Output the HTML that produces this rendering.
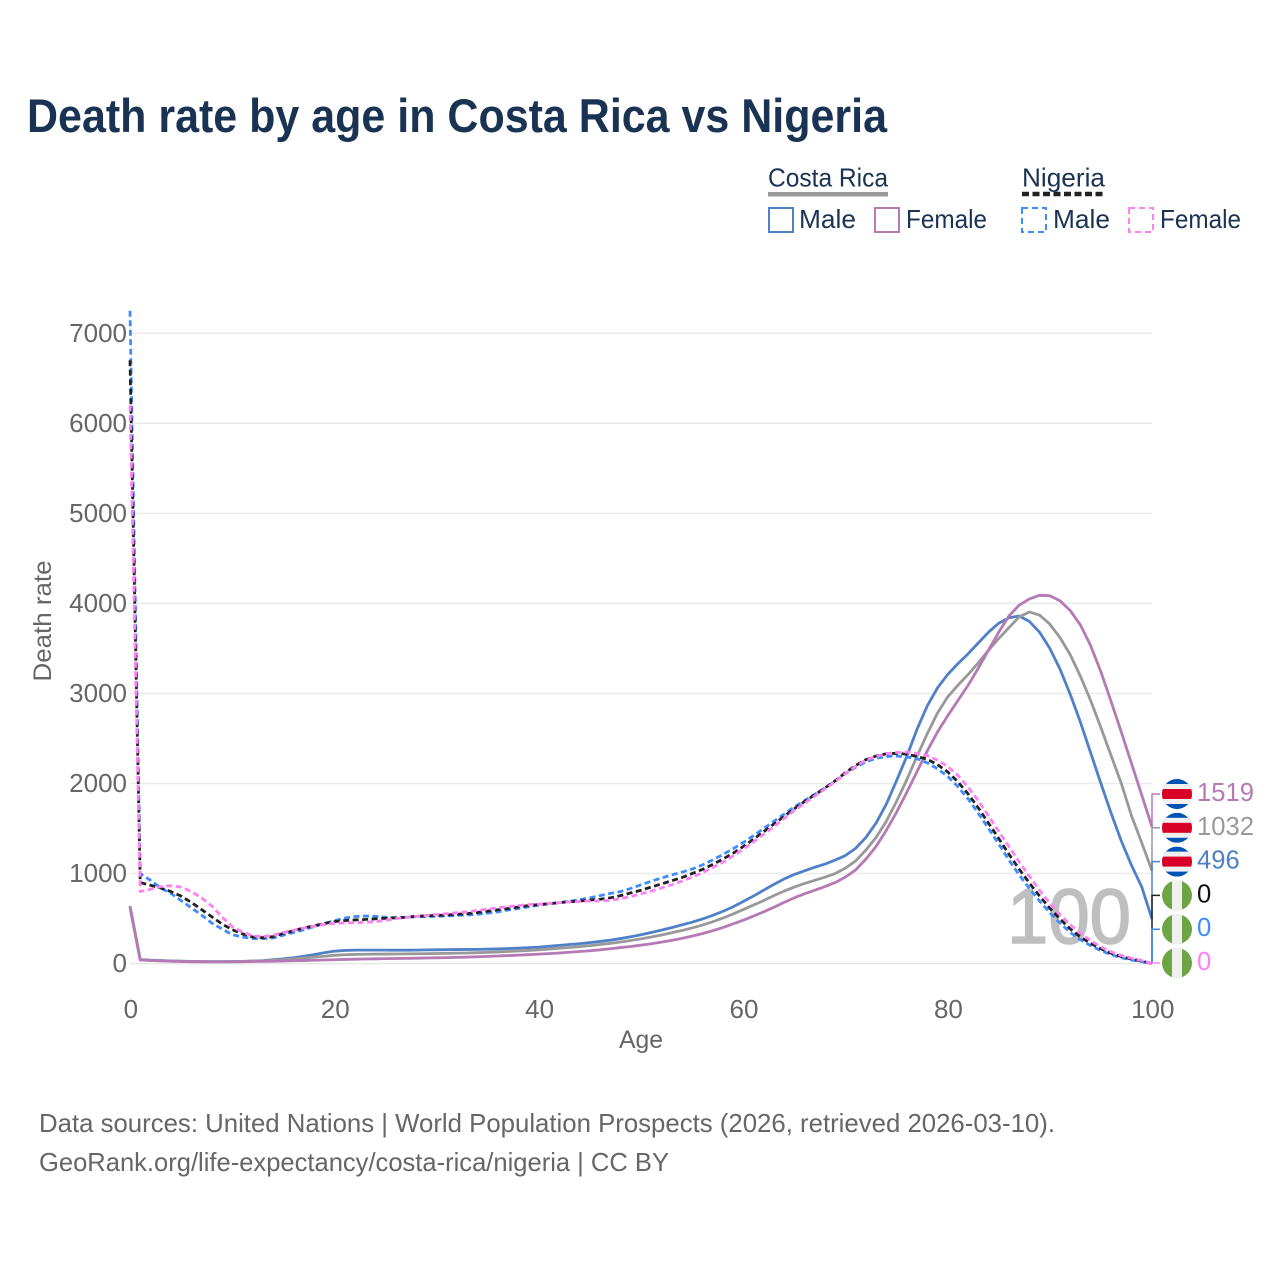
<!DOCTYPE html>
<html lang="en">
<head>
<meta charset="utf-8">
<title>Death rate by age in Costa Rica vs Nigeria</title>
<style>
html,body{margin:0;padding:0;background:#fff;}
svg{display:block;font-family:"Liberation Sans",sans-serif;}
</style>
</head>
<body>
<svg id="chart" width="1280" height="1280" viewBox="0 0 1280 1280" xmlns="http://www.w3.org/2000/svg">
<rect width="1280" height="1280" fill="#fff"/>
<text x="27" y="132" font-size="47" font-weight="700" fill="#1a3353" textLength="860" lengthAdjust="spacingAndGlyphs">Death rate by age in Costa Rica vs Nigeria</text>

<g font-size="26" fill="#1a3353">
<text x="768" y="186.5" textLength="120" lengthAdjust="spacingAndGlyphs">Costa Rica</text>
<rect x="768" y="192" width="120" height="4.5" fill="#999"/>
<text x="1022" y="186.5" textLength="83" lengthAdjust="spacingAndGlyphs">Nigeria</text>
<line x1="1022" y1="194" x2="1105" y2="194" stroke="#222" stroke-width="4.5" stroke-dasharray="7 3.5"/>
<rect x="769" y="208" width="24" height="24" fill="none" stroke="#5080c8" stroke-width="2"/>
<text x="799" y="228" textLength="57" lengthAdjust="spacingAndGlyphs">Male</text>
<rect x="875" y="208" width="24" height="24" fill="none" stroke="#b57ab5" stroke-width="2"/>
<text x="906" y="228" textLength="81" lengthAdjust="spacingAndGlyphs">Female</text>
<rect x="1022" y="208" width="24" height="24" fill="none" stroke="#3f8cff" stroke-width="2" stroke-dasharray="6 4"/>
<text x="1053" y="228" textLength="57" lengthAdjust="spacingAndGlyphs">Male</text>
<rect x="1129" y="208" width="24" height="24" fill="none" stroke="#ff80f5" stroke-width="2" stroke-dasharray="6 4"/>
<text x="1160" y="228" textLength="81" lengthAdjust="spacingAndGlyphs">Female</text>
</g>

<g id="grid"></g>
<g id="yticks" font-size="26" fill="#666" text-anchor="end"></g>
<g id="xticks" font-size="26" fill="#666" text-anchor="middle"></g>
<text x="641" y="1048" font-size="25" fill="#666" text-anchor="middle" textLength="44" lengthAdjust="spacingAndGlyphs">Age</text>
<text transform="translate(51,621) rotate(-90)" font-size="25" fill="#666" text-anchor="middle" textLength="121" lengthAdjust="spacingAndGlyphs">Death rate</text>
<text x="1007" y="943" font-size="78" font-weight="400" stroke="#bfbfbf" stroke-width="1.6" fill="#bfbfbf" textLength="124" lengthAdjust="spacingAndGlyphs">100</text>
<g id="lines"></g>
<g id="endlabels"></g>

<g font-size="26" fill="#666">
<text x="39" y="1132" textLength="1016" lengthAdjust="spacingAndGlyphs">Data sources: United Nations | World Population Prospects (2026, retrieved 2026-03-10).</text>
<text x="39" y="1171" textLength="630" lengthAdjust="spacingAndGlyphs">GeoRank.org/life-expectancy/costa-rica/nigeria | CC BY</text>
</g>
</svg>
<script>
const yTickValues = [0,1000,2000,3000,4000,5000,6000,7000];
const xTickValues = [0,20,40,60,80,100];
const costaRicaMale = [640,45,38,34,30,27,25,23,22,22,23,25,28,33,42,52,65,82,100,120,138,146,150,150,150,150,149,149,150,152,153,155,156,157,158,160,163,167,172,177,183,192,202,212,222,233,246,260,278,298,320,345,372,400,430,460,495,535,580,630,690,750,815,880,940,990,1030,1070,1105,1150,1200,1280,1400,1560,1770,2030,2300,2600,2860,3060,3210,3330,3440,3560,3680,3780,3840,3860,3800,3680,3500,3270,2990,2680,2340,2000,1670,1360,1090,850,496];
const costaRicaAll = [640,42,36,32,28,25,23,22,21,21,22,24,26,30,36,43,52,62,72,82,92,98,102,104,105,106,107,108,109,110,112,114,116,118,121,125,129,134,140,146,153,161,170,179,189,200,212,225,240,257,275,296,318,342,368,396,428,464,505,550,600,650,700,755,805,850,890,925,960,1000,1060,1140,1260,1400,1580,1800,2040,2300,2550,2780,2960,3090,3210,3340,3480,3610,3730,3850,3905,3870,3770,3620,3430,3190,2920,2620,2310,2000,1640,1340,1032];
const costaRicaFemale = [620,40,34,30,26,23,21,20,19,19,20,21,23,25,27,29,32,34,37,40,43,46,49,51,53,55,57,58,60,62,64,66,69,72,76,80,84,89,94,99,105,111,118,126,134,143,153,165,178,190,205,220,238,258,280,305,333,365,400,440,482,527,575,625,680,730,775,815,855,900,960,1040,1160,1300,1480,1680,1900,2130,2360,2570,2750,2920,3090,3280,3480,3680,3860,3980,4050,4090,4085,4030,3920,3760,3530,3240,2910,2570,2220,1870,1519];
const nigeriaAll = [6700,900,870,840,800,750,680,600,520,440,377,330,295,288,300,335,365,395,420,445,466,478,485,490,497,503,508,515,525,530,535,540,548,555,568,582,598,612,628,645,655,665,677,687,695,705,715,730,755,785,815,850,885,920,955,1000,1045,1100,1160,1225,1300,1380,1465,1550,1635,1720,1800,1875,1950,2030,2120,2200,2265,2305,2330,2335,2325,2300,2270,2210,2130,2020,1885,1730,1560,1390,1215,1050,895,750,615,495,385,295,225,165,115,78,50,28,0];
const nigeriaMale = [7250,1000,925,840,780,700,620,540,450,385,322,295,278,277,285,315,345,375,410,445,477,505,522,528,525,515,510,515,520,522,525,530,535,540,548,560,575,595,612,630,650,665,677,692,710,730,755,780,800,835,875,915,950,985,1015,1050,1095,1150,1210,1275,1345,1420,1500,1580,1660,1740,1810,1880,1950,2025,2110,2180,2240,2280,2300,2305,2295,2275,2230,2165,2080,1965,1830,1670,1500,1330,1150,985,835,695,565,450,345,265,200,145,100,65,40,20,0];
const nigeriaFemale = [6200,800,825,855,865,850,800,730,640,520,410,350,310,300,315,345,370,395,415,435,445,452,455,458,465,480,500,512,525,535,545,555,565,575,590,605,620,632,645,655,660,668,677,685,690,695,697,702,720,745,775,805,840,875,915,960,1010,1065,1125,1195,1270,1350,1435,1520,1610,1700,1780,1860,1940,2020,2110,2190,2260,2300,2330,2345,2350,2335,2310,2260,2190,2090,1960,1810,1640,1470,1300,1130,970,815,670,545,430,335,255,185,130,90,60,35,0];

const NS = 'http://www.w3.org/2000/svg';
const xAxis = function (age) { return 130 + age * 10.22; };
const yAxis = function (v) { return 963.6 - v * 0.09005; };
const SLOT_BOTTOM = 963;
const SLOT_STEP = 33.8;

function make(tag, parent) {
  const el = document.createElementNS(NS, tag);
  parent.appendChild(el);
  return el;
}

const grid = document.getElementById('grid');
const yticks = document.getElementById('yticks');
const xticks = document.getElementById('xticks');
const lines = document.getElementById('lines');
const endlabels = document.getElementById('endlabels');

yTickValues.forEach(function (v) {
  const g = make('line', grid);
  
  
  g.setAttribute('x1', 130);
  g.setAttribute('x2', 1152);
  g.setAttribute('y1', yAxis(v));
  g.setAttribute('y2', yAxis(v));
  g.setAttribute('stroke', v === 0 ? '#e6e6e6' : '#ebebeb');
  g.setAttribute('stroke-width', 1.5);
  const t = make('text', yticks);
  
  
  t.setAttribute('x', 127);
  t.setAttribute('y', yAxis(v) + 8.5);
  t.textContent = v;
});

xTickValues.forEach(function (a) {
  const t = make('text', xticks);
  
  
  t.setAttribute('x', xAxis(a) + 0.8);
  t.setAttribute('y', 1018);
  t.textContent = a;
});

const seriesList = [
  {key: 'costa-rica-male', values: costaRicaMale, color: '#5080c8', dash: '', flag: 'cr'},
  {key: 'costa-rica-all', values: costaRicaAll, color: '#999999', dash: '', flag: 'cr'},
  {key: 'costa-rica-female', values: costaRicaFemale, color: '#b57ab5', dash: '', flag: 'cr'},
  {key: 'nigeria-male', values: nigeriaMale, color: '#3f8cff', dash: '6 3.5', flag: 'ng', order: 1},
  {key: 'nigeria-all', values: nigeriaAll, color: '#222222', dash: '6 3.5', flag: 'ng', order: 0},
  {key: 'nigeria-female', values: nigeriaFemale, color: '#ff80f5', dash: '6 3.5', flag: 'ng', order: 2}
];

seriesList.forEach(function (s) {
  const p = make('polyline', lines);
  
  
  p.setAttribute('points', s.values.map(function (v, i) { return xAxis(i) + ',' + yAxis(v); }).join(' '));
  p.setAttribute('fill', 'none');
  p.setAttribute('stroke', s.color);
  p.setAttribute('stroke-width', 2.8);
  p.setAttribute('stroke-linejoin', 'round');
  if (s.dash) p.setAttribute('stroke-dasharray', s.dash);
});

const ranked = seriesList.slice().sort(function (a, b) {
  const d = b.values[100] - a.values[100];
  return d !== 0 ? d : (a.order || 0) - (b.order || 0);
});

ranked.forEach(function (s, i) {
  const slotY = SLOT_BOTTOM - SLOT_STEP * (ranked.length - 1 - i);
  const endV = s.values[100];
  const c = make('polyline', endlabels);
  
  
  c.setAttribute('points', xAxis(100) + ',' + yAxis(endV) + ' ' + xAxis(100) + ',' + slotY + ' 1160,' + slotY);
  c.setAttribute('fill', 'none');
  c.setAttribute('stroke', s.color);
  c.setAttribute('stroke-width', 1.5);
  const flag = make('g', endlabels);
  
  
  const clip = make('clipPath', flag);
  clip.setAttribute('id', 'clip-' + s.key);
  const cc = make('circle', clip);
  cc.setAttribute('cx', 1177);
  cc.setAttribute('cy', slotY);
  cc.setAttribute('r', 15);
  const stripes = s.flag === 'cr'
    ? [['#0052b4', -15, 30], ['#f0f0f0', -10, 20], ['#d80027', -5, 10]]
    : [['#6da544', -15, 30], ['#f0f0f0', -5, 10]];
  stripes.forEach(function (st) {
    const r = make('rect', flag);
    r.setAttribute('clip-path', 'url(#clip-' + s.key + ')');
    r.setAttribute('fill', st[0]);
    if (s.flag === 'cr') {
      r.setAttribute('x', 1162);
      r.setAttribute('width', 30);
      r.setAttribute('y', slotY + st[1]);
      r.setAttribute('height', st[2]);
    } else {
      r.setAttribute('y', slotY - 15);
      r.setAttribute('height', 30);
      r.setAttribute('x', 1177 + st[1]);
      r.setAttribute('width', st[2]);
    }
  });
  const t = make('text', endlabels);
  
  
  t.setAttribute('x', 1197);
  t.setAttribute('y', slotY + 7);
  t.setAttribute('font-size', 25.6);
  t.setAttribute('fill', s.color === '#222222' ? '#111111' : s.color);
  t.textContent = endV;
});
</script>
</body>
</html>
